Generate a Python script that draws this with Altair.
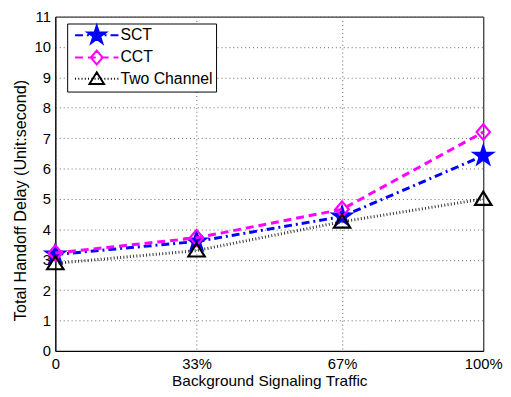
import altair as alt
import pandas as pd

# ---- data ----
traffic = [0, 33, 67, 100]
series_names = ["SCT", "CCT", "Two Channel"]
sct = [3.17, 3.60, 4.42, 6.42]
cct = [3.22, 3.72, 4.66, 7.20]
two_channel = [2.88, 3.30, 4.25, 5.00]
y_ticks = list(range(0, 12))
x_tick_labels = ["0", "33%", "67%", "100%"]

rows = []
for name, vals in zip(series_names, [sct, cct, two_channel]):
    for t, v in zip(traffic, vals):
        rows.append({"traffic": t, "delay": v, "series": name})
df = pd.DataFrame(rows)

# ---- styles ----
colors = {"SCT": "#0000ff", "CCT": "#ff00ff", "Two Channel": "#000000"}
line_colors = {"SCT": "#0000ff", "CCT": "#ff00ff", "Two Channel": "#333333"}
fills = {"SCT": "#0000ff", "CCT": "transparent", "Two Channel": "transparent"}
dashes = {"SCT": [8, 4, 2, 4], "CCT": [8, 5], "Two Channel": [1, 2.3]}
widths = {"SCT": 3, "CCT": 3, "Two Channel": 3}

STAR = ("M0,-1.1L0.247,-0.34L1.046,-0.34L0.4,0.13L0.647,0.89L0,0.42"
        "L-0.647,0.89L-0.4,0.13L-1.046,-0.34L-0.247,-0.34Z")
DIAMOND = "M0,-0.88L0.75,0L0,0.88L-0.75,0Z"
TRIANGLE = "M0,-0.82L0.92,0.66L-0.92,0.66Z"
markers = {"SCT": STAR, "CCT": DIAMOND, "Two Channel": TRIANGLE}

MSIZE = 324  # data markers: r = 9 px per path unit
LSIZE = 256  # legend symbols: r = 8 px per path unit
LUNIT = (LSIZE ** 0.5) / 2


def scale_path(path, k):
    out = []
    num = ""
    for ch in path:
        if ch in "-.0123456789":
            num += ch
        else:
            if num:
                out.append(f"{float(num) * k:.3f}")
                num = ""
            out.append(ch)
    if num:
        out.append(f"{float(num) * k:.3f}")
    return "".join(out)


def dash_segments(pattern_px, half_units):
    pat = [p / LUNIT for p in pattern_px]
    segs = []
    x = -half_units
    i = 0
    while x < half_units:
        on = pat[i % len(pat)]
        off = pat[(i + 1) % len(pat)]
        x2 = min(x + on, half_units)
        segs.append(f"M{x:.3f},0L{x2:.3f},0")
        x = x2 + off
        i += 2
    return "".join(segs)


HALF = 22 / LUNIT
legend_marker_scale = {"SCT": 1.1, "CCT": 1.0, "Two Channel": 1.0}
legend_paths = [
    scale_path(markers[n], legend_marker_scale[n]) + dash_segments(dashes[n], HALF)
    for n in series_names
]

x_enc = alt.X(
    "traffic:Q",
    scale=alt.Scale(domain=[0, 100], nice=False),
    axis=alt.Axis(
        values=traffic,
        labelExpr="datum.value == 0 ? '0' : datum.value + '%'",
        title="Background Signaling Traffic",
        ticks=False,
        labelPadding=6,
        titlePadding=2,
        labelFlush=False,
        titleFontSize=15.6,
    ),
)
y_enc = alt.Y(
    "delay:Q",
    scale=alt.Scale(domain=[0, 11], nice=False),
    axis=alt.Axis(
        values=y_ticks,
        title="Total Handoff Delay (Unit:second)",
        ticks=False,
        labelPadding=5,
        titlePadding=6,
        titleFontSize=16.4,
        titleY=186,
    ),
)

layers = []
for name in series_names:
    base = alt.Chart(df).transform_filter(alt.datum.series == name)
    layers.append(
        base.mark_line(
            color=line_colors[name], strokeDash=dashes[name], strokeWidth=widths[name]
        ).encode(x=x_enc, y=y_enc)
    )
    layers.append(
        base.mark_point(
            shape=markers[name],
            size=MSIZE,
            fill=fills[name],
            stroke=colors[name],
            strokeWidth=2.2,
            opacity=1,
            filled=(name == "SCT"),
        ).encode(x=x_enc, y=y_enc)
    )

leg = dict(title=None, orient="none", legendX=12, legendY=7)
legend_layer = (
    alt.Chart(df)
    .transform_filter("false")
    .mark_point(size=LSIZE, strokeWidth=2, opacity=1)
    .encode(
        shape=alt.Shape(
            "series:N",
            scale=alt.Scale(domain=series_names, range=legend_paths),
            legend=alt.Legend(**leg),
        ),
        fill=alt.Fill(
            "series:N",
            scale=alt.Scale(domain=series_names, range=[fills[n] for n in series_names]),
            legend=alt.Legend(**leg),
        ),
        stroke=alt.Stroke(
            "series:N",
            scale=alt.Scale(domain=series_names, range=[colors[n] for n in series_names]),
            legend=alt.Legend(**leg),
        ),
    )
)
layers.append(legend_layer)

FONT = "Liberation Sans"
chart = (
    alt.layer(*layers)
    .properties(
        width=434,
        height=339,
        autosize=alt.AutoSizeParams(type="none"),
        padding={"left": 48, "top": 6, "right": 20, "bottom": 42},
    )
    .configure_view(stroke="#000000", strokeWidth=1)
    .configure_axis(
        domainColor="#000000",
        domainWidth=1,
        grid=True,
        gridColor="#666666",
        gridDash=[1, 3],
        gridWidth=1,
        labelFont=FONT,
        labelFontSize=15,
        labelColor="#000000",
        titleFont=FONT,
        titleFontSize=15,
        titleFontWeight="normal",
        titleColor="#000000",
    )
    .configure_legend(
        orient="none",
        legendX=12,
        legendY=7,
        strokeColor="#000000",
        fillColor="#ffffff",
        padding=3,
        cornerRadius=0,
        symbolSize=LSIZE,
        symbolStrokeWidth=2,
        symbolOffset=18,
        labelOffset=15,
        labelFont=FONT,
        labelFontSize=16,
        labelColor="#000000",
        rowPadding=-1.5,
    )
)

chart.save("out.html", embed_options={"renderer": "svg", "actions": False})
